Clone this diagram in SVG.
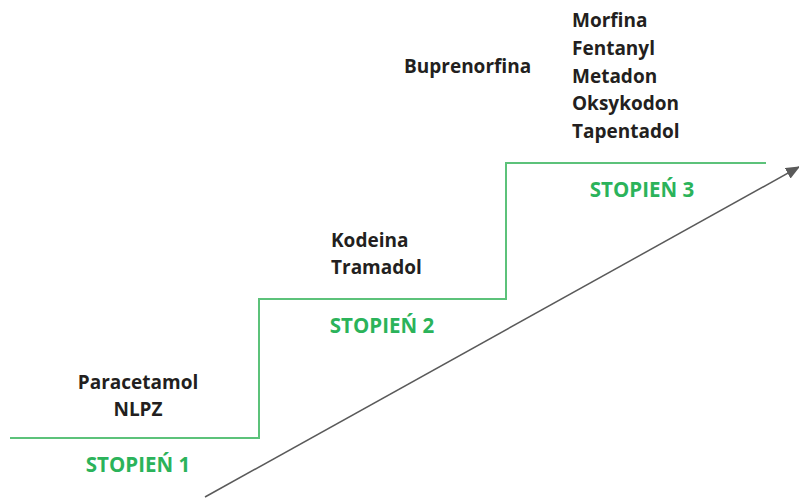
<svg xmlns="http://www.w3.org/2000/svg" width="799" height="499" viewBox="0 0 799 499">
<style>
.t{font-family:"Open Sans","Liberation Sans",sans-serif;font-weight:bold;font-size:19px;fill:#231f20}
.g{font-family:"Open Sans","Liberation Sans",sans-serif;font-weight:bold;font-size:20.5px;fill:#2bb35a}
.c{text-anchor:middle}
</style>
<defs>
<marker id="ah" markerWidth="14" markerHeight="12" refX="13" refY="6" orient="auto" markerUnits="userSpaceOnUse"><path d="M0,0 L14,6 L0,12 Z" fill="#5a5a5a"/></marker>
</defs>
<rect width="799" height="499" fill="#fff"/>
<g id="connectors">
<polyline points="10,438 259,438 259,299 506,299 506,163 766,163" fill="none" stroke="#5cc27a" stroke-width="2"/>
<line x1="205" y1="497" x2="799" y2="167" stroke="#5a5a5a" stroke-width="1.5" marker-end="url(#ah)"/>
</g>
<g id="step1">
<text class="t c" x="138" y="389">Paracetamol</text>
<text class="t c" x="138" y="416">NLPZ</text>
<text class="g c" x="138" y="472">STOPIEŃ 1</text>
</g>
<g id="step2">
<text class="t" x="331" y="247">Kodeina</text>
<text class="t" x="331" y="274">Tramadol</text>
<text class="g c" x="382" y="333">STOPIEŃ 2</text>
</g>
<g id="step3">
<text class="t" x="404" y="73">Buprenorfina</text>
<text class="t" x="572" y="27">Morfina</text>
<text class="t" x="572" y="55">Fentanyl</text>
<text class="t" x="572" y="83">Metadon</text>
<text class="t" x="572" y="110">Oksykodon</text>
<text class="t" x="572" y="138">Tapentadol</text>
<text class="g c" x="642" y="197">STOPIEŃ 3</text>
</g>
</svg>
